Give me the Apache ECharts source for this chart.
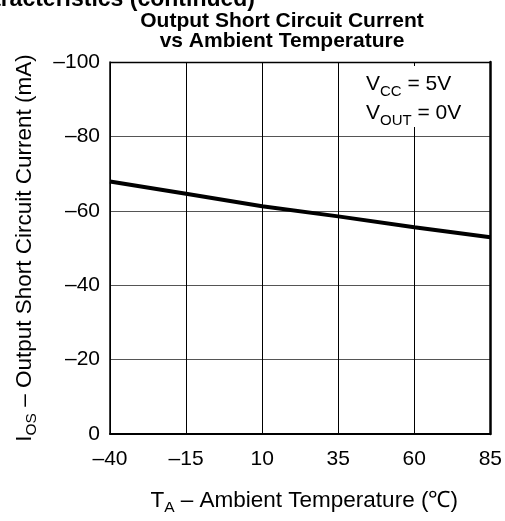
<!DOCTYPE html>
<html>
<head>
<meta charset="utf-8">
<script src="https://cdn.jsdelivr.net/npm/echarts@6/dist/echarts.min.js"></script>
<style>
html,body{margin:0;padding:0;background:#fff;}
#c{width:505px;height:521px;}
</style>
</head>
<body>
<div id="c"></div>
<script>
// Data
var temperatures = ['-40', '-15', '10', '35', '60', '85'];
var shortCircuitCurrent = [-67.9, -64.6, -61.2, -58.5, -55.6, -52.9];
var yMin = -100, yMax = 0, yStep = 20;

var FONT = '"Liberation Sans", Arial, sans-serif';
function dash(v) { return String(v).replace('-', '\u2013'); }

var nameRich = {
  m: {fontFamily: FONT, fontSize: 22.5, color: '#000', lineHeight: 26, verticalAlign: 'bottom'},
  s: {fontFamily: FONT, fontSize: 15.5, color: '#000', lineHeight: 26, verticalAlign: 'bottom', padding: [0, 0, -4, 0]}
};

var chart = echarts.init(document.getElementById('c'), null, {renderer: 'canvas'});
chart.setOption({
  backgroundColor: '#fff',
  animation: false,
  grid: {left: 110, right: 14, top: 62, bottom: 81, containLabel: false},
  xAxis: {
    type: 'category',
    data: temperatures,
    boundaryGap: false,
    name: '{m|T}{s|A}{m| \u2013 Ambient Temperature (\u2103)}',
    nameLocation: 'middle',
    nameGap: 52,
    nameTextStyle: {fontFamily: FONT, color: '#000', padding: [0, 0, 0, 8], rich: nameRich},
    axisLine: {show: true, lineStyle: {color: '#000', width: 2}},
    axisTick: {show: false},
    axisLabel: {fontFamily: FONT, fontSize: 21, color: '#000', margin: 15, formatter: dash},
    splitLine: {show: true, lineStyle: {color: '#000', width: 1}}
  },
  yAxis: [{
    type: 'value',
    min: yMin, max: yMax, interval: yStep,
    inverse: true,
    name: '{m|I}{s|OS}{m| \u2013 Output Short Circuit Current (mA)}',
    nameLocation: 'middle',
    nameGap: 74,
    nameRotate: 90,
    nameTextStyle: {fontFamily: FONT, color: '#000', rich: nameRich},
    axisLine: {show: true, onZero: false, lineStyle: {color: '#000', width: 1.5}},
    axisTick: {show: false},
    axisLabel: {fontFamily: FONT, fontSize: 21, color: '#000', margin: 10, formatter: dash},
    splitLine: {show: true, lineStyle: {color: '#555', width: 1}}
  }, {
    type: 'value',
    position: 'right',
    min: yMin, max: yMax, interval: yStep,
    inverse: true,
    axisLine: {show: true, onZero: false, lineStyle: {color: '#000', width: 2.5}},
    axisTick: {show: false},
    axisLabel: {show: false},
    splitLine: {show: false}
  }],
  series: [{
    type: 'line',
    data: shortCircuitCurrent,
    yAxisIndex: 0,
    symbol: 'none',
    smooth: false,
    lineStyle: {color: '#000', width: 4},
    z: 5
  }],
  graphic: [
    {
      type: 'line', z: 10, silent: true,
      shape: {x1: 110, y1: 62.5, x2: 491, y2: 62.5},
      style: {stroke: '#000', lineWidth: 1.5}
    },
    {
      type: 'text', z: 10,
      style: {
        text: 'Characteristics (continued)',
        x: 255, y: 0, align: 'right', verticalAlign: 'middle',
        font: 'bold 23px ' + FONT, fill: '#000'
      }
    },
    {
      type: 'text', z: 10,
      style: {
        text: 'Output Short Circuit Current',
        x: 282, y: 21, align: 'center', verticalAlign: 'middle',
        font: 'bold 21px ' + FONT, fill: '#000'
      }
    },
    {
      type: 'text', z: 10,
      style: {
        text: 'vs Ambient Temperature',
        x: 282, y: 41.5, align: 'center', verticalAlign: 'middle',
        font: 'bold 21px ' + FONT, fill: '#000'
      }
    },
    {
      type: 'rect', z: 8,
      shape: {x: 362, y: 66, width: 100, height: 61},
      style: {fill: '#fff'}
    },
    {
      type: 'text', z: 11,
      style: {
        text: '{m|V}{s|CC}{m| = 5V}',
        x: 366, y: 82, align: 'left', verticalAlign: 'middle',
        rich: {
          m: {fontFamily: FONT, fontSize: 21, fill: '#000', lineHeight: 26, verticalAlign: 'bottom'},
          s: {fontFamily: FONT, fontSize: 15, fill: '#000', lineHeight: 26, verticalAlign: 'bottom', padding: [0, 0, -4, 0]}
        }
      }
    },
    {
      type: 'text', z: 11,
      style: {
        text: '{m|V}{s|OUT}{m| = 0V}',
        x: 366, y: 111, align: 'left', verticalAlign: 'middle',
        rich: {
          m: {fontFamily: FONT, fontSize: 21, fill: '#000', lineHeight: 26, verticalAlign: 'bottom'},
          s: {fontFamily: FONT, fontSize: 15, fill: '#000', lineHeight: 26, verticalAlign: 'bottom', padding: [0, 0, -4, 0]}
        }
      }
    }
  ]
});
</script>
</body>
</html>
